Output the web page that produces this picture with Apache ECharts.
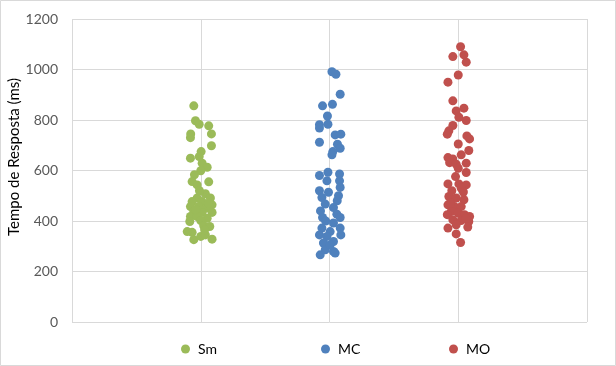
<!DOCTYPE html>
<html>
<head>
<meta charset="utf-8">
<script src="https://cdn.jsdelivr.net/npm/echarts@6/dist/echarts.min.js"></script>
<style>html,body{margin:0;padding:0;background:#fff}#c{width:616px;height:366px}</style>
</head>
<body>
<div id="c"></div>
<script>
var categories = ['Sm', 'MC', 'MO'];
var yTicks = [0, 200, 400, 600, 800, 1000, 1200];

var smValues = [856,797,783,777,745,745,730,698,675,649,655,629,613,599,583,556,543,555,508,491,491,477,477,464,457,457,451,438,434,434,418,418,411,398,402,355,381,378,326,339,345,328,358,470,445,520,365];
var smJitter = [-0.054,-0.041,-0.012,0.062,0.083,-0.078,-0.08,0.083,0.003,-0.08,-0.012,0.011,0.05,0,-0.049,-0.067,-0.028,0.062,0.036,-0.028,0.075,-0.067,0.011,0.088,-0.08,-0.016,0.044,-0.054,0.011,0.088,-0.08,-0.028,0.05,-0.085,0,-0.067,0.023,0.07,-0.054,0,0.036,0.088,-0.105,0.06,-0.04,-0.01,0.03];

var mcValues = [991,981,902,856,862,816,783,781,768,741,744,712,704,688,675,662,593,580,586,559,559,533,520,514,493,467,453,427,414,414,392,372,372,358,345,339,345,313,319,286,279,266,273,306,500,440,480,400];
var mcJitter = [0.019,0.05,0.083,-0.054,0.023,-0.016,-0.012,-0.078,-0.078,0.044,0.088,-0.078,0.062,0.083,0.026,0.019,-0.012,-0.078,0.078,-0.02,0.078,0.083,-0.078,-0.008,-0.059,-0.033,0.031,0.057,-0.054,0.083,0.031,-0.059,0.083,0.005,-0.078,-0.02,0.088,-0.047,0.031,-0.033,0.031,-0.072,0.044,0.005,0.07,-0.07,0.06,-0.03];

var moValues = [1090,1058,1051,1029,978,950,876,847,836,811,798,778,757,744,737,725,705,679,662,651,646,631,625,629,609,592,576,547,547,543,530,497,491,484,464,457,457,438,431,425,425,418,405,402,398,372,385,376,349,315,470,515,520,410];
var moJitter = [0.018,0.044,-0.042,0.062,0,-0.08,-0.042,0.044,-0.016,0.005,0.062,-0.042,-0.073,-0.085,0.067,0.088,0,0.082,0.023,-0.08,-0.042,-0.067,-0.016,0.062,0,0.062,-0.021,-0.08,0.005,0.062,0.023,-0.073,-0.016,0.044,-0.08,-0.029,0.023,-0.054,0,-0.085,0.049,0.088,-0.042,0.023,0.082,-0.08,-0.016,0.074,-0.016,0.018,-0.06,0.04,-0.05,0.06];

var colors = ['#9BBB59', '#4F81BD', '#C0504D'];

function pts(catIndex, jit, vals) {
  return vals.map(function (v, i) { return [catIndex + 1 + jit[i], v]; });
}
var groups = [[smJitter, smValues], [mcJitter, mcValues], [moJitter, moValues]];

var font = 'Lato, "Open Sans", sans-serif';
var chart = echarts.init(document.getElementById('c'), null, {renderer: 'canvas'});
var legendLeft = [176, 316, 444];
chart.setOption({
  animation: false,
  backgroundColor: '#fff',
  grid: {left: 72, right: 29, top: 19, bottom: 44, containLabel: false},
  xAxis: {
    type: 'value', min: 0, max: 4, interval: 1,
    axisLine: {show: false}, axisTick: {show: false}, axisLabel: {show: false},
    splitLine: {show: true, lineStyle: {color: '#d9d9d9', width: 1}}
  },
  yAxis: {
    type: 'value', min: yTicks[0], max: yTicks[yTicks.length - 1], interval: 200,
    axisLine: {show: false}, axisTick: {show: false},
    axisLabel: {color: '#595959', fontSize: 14, fontFamily: font, margin: 14,
      formatter: function (v) { return String(v); }},
    splitLine: {show: true, lineStyle: {color: '#d9d9d9', width: 1}}
  },
  legend: categories.map(function (c, i) {
    return {
      data: [c], left: legendLeft[i], top: 337, icon: 'circle',
      itemWidth: 9, itemHeight: 9,
      textStyle: {color: '#000', fontSize: 14, fontFamily: font, padding: [0, 0, 0, 3]}
    };
  }),
  graphic: [
    {type: 'text', x: 14, y: 157, rotation: Math.PI / 2,
     style: {text: 'Tempo de Resposta (ms)', fill: '#000', font: '15px ' + font, textAlign: 'center', textVerticalAlign: 'middle'}},
    {type: 'rect', shape: {x: 0.5, y: 0.5, width: 615, height: 365}, style: {fill: 'none', stroke: '#d9d9d9', lineWidth: 1}, silent: true}
  ],
  series: categories.map(function (c, i) {
    return {
      name: c, type: 'scatter', symbol: 'circle', symbolSize: 9,
      itemStyle: {color: colors[i], opacity: 1},
      data: pts(i, groups[i][0], groups[i][1])
    };
  })
});
</script>
</body>
</html>
